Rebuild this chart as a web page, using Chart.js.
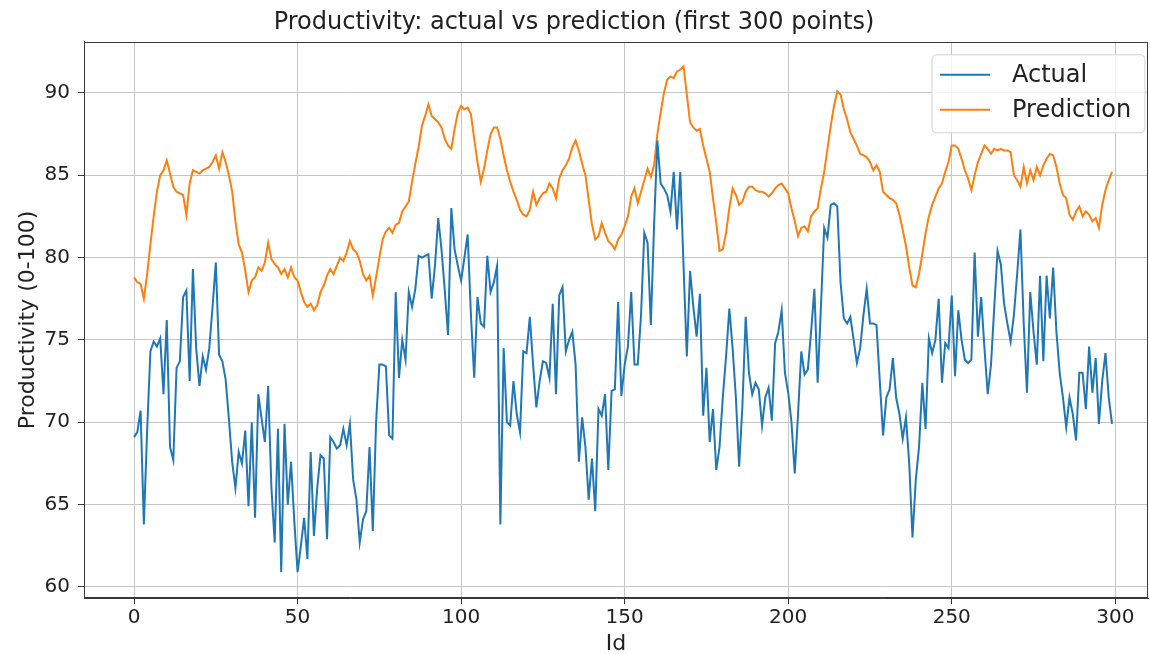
<!DOCTYPE html>
<html><head><meta charset="utf-8">
<script src="https://cdn.jsdelivr.net/npm/chart.js@4.4.0/dist/chart.umd.min.js"></script>
<style>html,body{margin:0;padding:0;background:#fff;} #wrap{width:1150px;height:655px;}</style>
</head><body>
<div id="wrap"><canvas id="c" width="1150" height="655"></canvas></div>
<script>
const FONT = "'DejaVu Sans', sans-serif";
const ids = Array.from({length: 300}, (_, i) => i);
const actual = [
69.1,69.4,70.7,63.8,69.5,74.3,74.9,74.6,75.1,71.7,
76.2,68.5,67.7,73.3,73.7,77.6,78.0,72.5,79.3,74.5,
72.2,74.0,73.2,74.5,77.0,79.7,74.1,73.7,72.6,70.2,
67.6,66.0,68.2,67.5,69.5,64.9,70.0,64.2,71.7,70.2,
68.8,72.2,66.0,62.7,69.6,60.9,69.9,65.0,67.6,64.0,
60.9,62.5,64.2,61.7,68.2,63.1,66.0,68.0,67.8,62.9,
69.1,68.8,68.4,68.6,69.6,68.6,69.9,66.5,65.3,62.7,
64.1,64.6,68.5,63.4,70.0,73.5,73.5,73.4,69.2,69.0,
77.9,72.7,75.0,73.8,77.9,77.0,78.1,80.1,80.0,80.1,
80.2,77.5,79.5,82.4,80.5,78.0,75.3,83.0,80.5,79.5,
78.6,80.0,81.4,76.5,72.7,77.6,76.0,75.8,80.1,77.9,
78.5,79.5,63.8,74.5,70.0,69.8,72.5,70.5,69.4,74.3,
74.2,76.4,73.5,70.9,72.5,73.7,73.6,72.7,77.2,71.7,
77.7,78.2,74.3,75.0,75.5,73.5,67.6,70.3,68.5,65.3,
67.8,64.6,70.8,70.4,71.7,67.1,71.9,72.0,77.3,71.6,
73.5,74.6,77.9,73.5,73.5,76.5,81.5,80.9,75.9,82.0,
87.1,84.5,84.2,83.8,82.8,85.2,81.7,85.2,79.5,74.0,
79.2,77.0,75.2,77.8,70.4,73.3,68.8,70.8,67.1,68.5,
71.5,74.0,76.9,74.5,71.5,67.3,71.0,76.4,73.0,71.7,
72.4,72.0,69.8,71.5,72.1,70.1,74.8,75.5,76.8,73.0,
71.8,70.0,66.9,70.5,74.3,72.9,73.2,75.5,78.1,72.4,
77.0,81.8,81.2,83.2,83.3,83.1,78.5,76.3,76.0,76.4,
75.0,73.6,74.5,76.5,78.1,76.0,76.0,75.9,72.5,69.2,
71.5,72.0,73.9,71.5,70.5,69.0,70.3,67.5,63.0,66.5,
68.5,72.4,69.6,75.1,74.2,75.0,77.5,72.4,74.8,74.5,
77.7,72.8,76.8,75.0,73.8,73.6,73.8,80.3,75.2,77.6,
74.5,71.7,73.5,77.0,80.4,79.6,77.2,76.0,74.9,76.5,
79.0,81.7,76.0,71.8,77.9,75.5,73.5,78.9,73.7,78.9,
76.3,79.4,75.5,73.0,71.5,69.7,71.5,70.5,68.9,73.0,
73.0,70.8,74.6,71.8,73.9,69.9,72.5,74.2,71.5,69.9
];
const prediction = [
78.8,78.5,78.4,77.5,79.0,80.8,82.5,84.0,85.0,85.3,
85.9,85.1,84.3,84.0,83.9,83.8,82.6,84.5,85.3,85.2,
85.1,85.3,85.4,85.5,85.8,86.2,85.4,86.4,85.8,85.0,
84.0,82.2,80.8,80.3,79.2,77.9,78.6,78.8,79.4,79.2,
79.7,80.9,79.9,79.6,79.4,79.0,79.3,78.8,79.4,78.8,
78.6,77.9,77.3,77.0,77.2,76.8,77.1,77.9,78.3,78.9,
79.3,79.0,79.5,80.0,79.8,80.3,81.0,80.5,80.3,79.8,
79.0,78.6,78.9,77.7,78.8,80.0,81.1,81.6,81.8,81.5,
82.0,82.1,82.8,83.1,83.4,84.6,85.7,86.7,88.0,88.6,
89.3,88.6,88.4,88.2,87.9,87.2,86.8,86.6,87.8,88.8,
89.2,89.0,89.1,88.7,87.2,85.8,84.6,85.4,86.5,87.5,
87.9,87.9,87.2,86.2,85.3,84.6,84.0,83.5,82.9,82.6,
82.5,82.9,84.0,83.2,83.6,83.9,84.0,84.5,84.2,83.6,
84.8,85.3,85.6,86.0,86.7,87.1,86.5,85.7,85.0,83.5,
82.0,81.1,81.3,82.1,81.5,81.0,80.8,80.5,81.1,81.4,
81.9,82.5,83.7,84.2,83.3,84.0,84.7,85.4,84.9,85.6,
87.5,88.8,90.0,90.8,91.0,90.9,91.3,91.4,91.6,89.9,
88.2,87.9,87.7,87.8,86.8,86.0,85.2,83.6,82.1,80.4,
80.5,81.5,83.0,84.2,83.8,83.2,83.4,84.0,84.3,84.3,
84.1,84.0,84.0,83.9,83.7,83.9,84.2,84.4,84.5,84.2,
83.9,83.0,82.2,81.3,81.8,81.9,81.6,82.5,82.8,83.0,
84.2,85.2,86.6,88.0,89.2,90.1,89.9,89.0,88.4,87.6,
87.2,86.8,86.3,86.2,86.1,85.8,85.3,85.6,85.2,84.0,
83.8,83.6,83.5,83.3,82.6,81.7,80.7,79.4,78.3,78.2,
79.0,80.2,81.5,82.5,83.2,83.7,84.2,84.5,85.2,85.8,
86.8,86.8,86.6,86.0,85.3,84.8,84.1,85.0,85.8,86.3,
86.8,86.6,86.3,86.6,86.5,86.6,86.5,86.5,86.4,85.0,
84.7,84.3,85.5,84.5,85.3,84.7,85.5,85.0,85.6,86.0,
86.3,86.2,85.5,84.5,83.8,83.6,82.6,82.3,82.8,83.1,
82.5,82.8,82.6,82.2,82.4,81.8,83.2,84.1,84.7,85.2
];
const xTicks = [0, 50, 100, 150, 200, 250, 300];
const yTicks = [60, 65, 70, 75, 80, 85, 90];
const seriesNames = ['Actual', 'Prediction'];
const seriesColors = ['#1f77b4', '#ff7f0e'];

const framePlugin = {
  id: 'frame',
  afterDatasetsDraw(chart) {
    const {ctx, chartArea: a} = chart;
    ctx.save();
    ctx.strokeStyle = '#3a3a3a';
    ctx.lineWidth = 1;
    ctx.strokeRect(Math.round(a.left) + 0.5, Math.round(a.top) + 0.5,
                   Math.round(a.right - a.left) - 1, Math.round(a.bottom - a.top) - 1);
    ctx.restore();
  }
};

const legendPlugin = {
  id: 'mplLegend',
  afterDraw(chart) {
    const {ctx, chartArea: a} = chart;
    const bw = 213, bh = 78;
    const bx = a.right - 3 - bw, by = a.top + 13;
    ctx.save();
    const r = 5;
    ctx.beginPath();
    ctx.moveTo(bx + r, by);
    ctx.lineTo(bx + bw - r, by);
    ctx.quadraticCurveTo(bx + bw, by, bx + bw, by + r);
    ctx.lineTo(bx + bw, by + bh - r);
    ctx.quadraticCurveTo(bx + bw, by + bh, bx + bw - r, by + bh);
    ctx.lineTo(bx + r, by + bh);
    ctx.quadraticCurveTo(bx, by + bh, bx, by + bh - r);
    ctx.lineTo(bx, by + r);
    ctx.quadraticCurveTo(bx, by, bx + r, by);
    ctx.closePath();
    ctx.fillStyle = 'rgba(255,255,255,0.8)';
    ctx.fill();
    ctx.strokeStyle = '#d0d0d0';
    ctx.lineWidth = 1;
    ctx.stroke();
    chart.data.datasets.forEach((ds, i) => {
      const y = by + 20 + i * 35;
      ctx.beginPath();
      ctx.moveTo(bx + 8, y);
      ctx.lineTo(bx + 58, y);
      ctx.strokeStyle = ds.borderColor;
      ctx.lineWidth = 2;
      ctx.stroke();
      ctx.fillStyle = '#222';
      ctx.font = "24px " + FONT;
      ctx.textBaseline = 'middle';
      ctx.textAlign = 'left';
      ctx.fillText(ds.label, bx + 80, y + 1);
    });
    ctx.restore();
  }
};

new Chart(document.getElementById('c'), {
  type: 'line',
  data: {
    datasets: [
      { label: seriesNames[0], data: actual.map((v, i) => ({x: ids[i], y: v})),
        borderColor: seriesColors[0], borderWidth: 2, pointRadius: 0, tension: 0, fill: false },
      { label: seriesNames[1], data: prediction.map((v, i) => ({x: ids[i], y: v})),
        borderColor: seriesColors[1], borderWidth: 2, pointRadius: 0, tension: 0, fill: false }
    ]
  },
  options: {
    responsive: false,
    animation: false,
    devicePixelRatio: 1,
    layout: { padding: { left: 0, right: 2, top: 0, bottom: 0 } },
    plugins: {
      legend: { display: false },
      tooltip: { enabled: false },
      title: {
        display: true,
        text: 'Productivity: actual vs prediction (first 300 points)',
        color: '#222',
        font: { family: FONT, size: 24, weight: 'normal', lineHeight: 1.2 },
        padding: { top: 8, bottom: 5 }
      }
    },
    scales: {
      x: {
        type: 'linear',
        min: -15.3, max: 310,
        afterBuildTicks: s => { s.ticks = xTicks.map(v => ({value: v})); },
        afterFit: s => { s.height = 57; },
        ticks: { color: '#222', font: { family: FONT, size: 20, lineHeight: 1 }, padding: 4, maxRotation: 0, autoSkip: false },
        grid: { color: '#c6c6c6', lineWidth: 1, tickColor: '#3a3a3a', tickLength: 6 },
        border: { color: '#3a3a3a' },
        title: { display: true, text: 'Id', color: '#222', font: { family: FONT, size: 22, lineHeight: 1 }, padding: { top: 0, bottom: 0 } }
      },
      y: {
        type: 'linear',
        min: 59.33, max: 93.1,
        afterBuildTicks: s => { s.ticks = yTicks.map(v => ({value: v})); },
        afterFit: s => { s.width = 84; },
        ticks: { color: '#222', font: { family: FONT, size: 20 }, padding: 8, autoSkip: false },
        grid: { color: '#c6c6c6', lineWidth: 1, tickColor: '#3a3a3a', tickLength: 6 },
        border: { color: '#3a3a3a' },
        title: { display: true, text: 'Productivity (0-100)', color: '#222', font: { family: FONT, size: 22, lineHeight: 1.2 }, padding: { top: 15, bottom: 0 } }
      }
    }
  },
  plugins: [framePlugin, legendPlugin]
});
</script>
</body></html>
